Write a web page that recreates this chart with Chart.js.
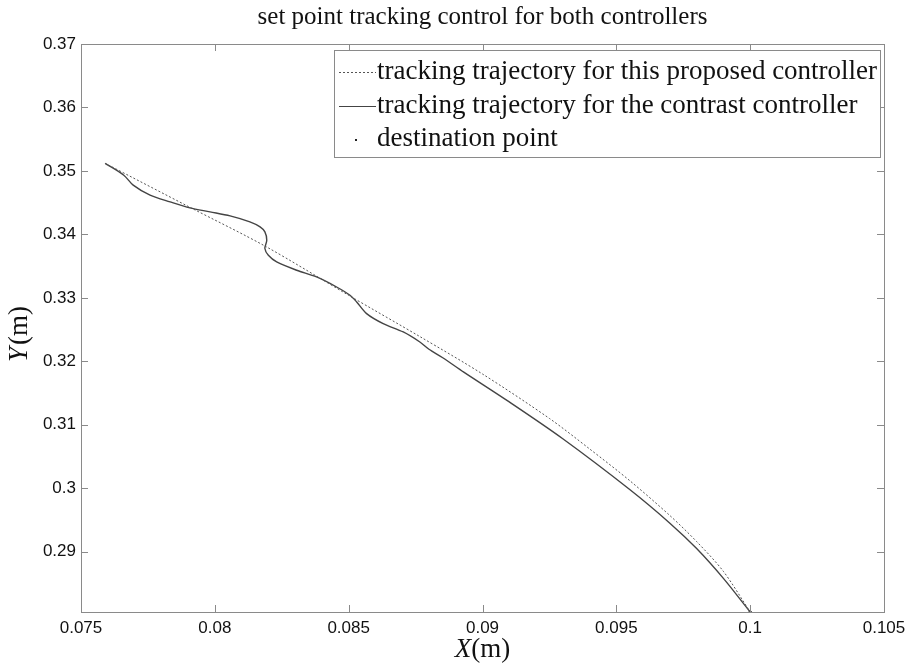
<!DOCTYPE html>
<html>
<head>
<meta charset="utf-8">
<script src="https://cdn.jsdelivr.net/npm/chart.js@4.4.0/dist/chart.umd.min.js"></script>
<style>
  html, body { margin: 0; padding: 0; background: #fff; }
  #wrap { width: 912px; height: 669px; }
</style>
</head>
<body>
<div id="wrap"><canvas id="myChart" width="912" height="669"></canvas></div>
<script>
// tick labels
const xTicks = [0.075, 0.08, 0.085, 0.09, 0.095, 0.1, 0.105];
const yTicks = [0.29, 0.3, 0.31, 0.32, 0.33, 0.34, 0.35, 0.36, 0.37];

// proposed controller (dotted)
const propX = [0.0759, 0.0791, 0.0819, 0.0850, 0.0877, 0.0900, 0.0925, 0.0940, 0.0955, 0.0970, 0.0980, 0.0990, 0.1000];
const propY = [0.3512, 0.3442, 0.3381, 0.3304, 0.3238, 0.3180, 0.3110, 0.3062, 0.3012, 0.2957, 0.2916, 0.2869, 0.2805];

// contrast controller (solid)
const contX = [0.0759, 0.0766, 0.07695, 0.07758, 0.07833, 0.07907, 0.07982, 0.08057, 0.08131, 0.08169, 0.08187, 0.08194, 0.08187, 0.0820, 0.08231, 0.08306, 0.0838, 0.08455, 0.08505, 0.0853, 0.08567, 0.08629, 0.08704, 0.08766, 0.0880, 0.0885, 0.0893, 0.0910, 0.0930, 0.0955, 0.0970, 0.0980, 0.0990, 0.1000];
const contY = [0.3512, 0.34933, 0.34776, 0.34618, 0.34512, 0.34418, 0.34355, 0.34291, 0.34197, 0.34118, 0.34039, 0.33908, 0.33777, 0.33671, 0.33566, 0.33435, 0.33329, 0.33171, 0.33041, 0.32935, 0.32752, 0.32594, 0.32462, 0.32304, 0.3219, 0.3206, 0.3183, 0.3136, 0.3078, 0.2998, 0.2945, 0.2905, 0.2858, 0.2805];

// destination point
const destX = [0.1];
const destY = [0.2805];

const labels = [
  'tracking trajectory for this proposed controller',
  'tracking trajectory for the contrast controller',
  'destination point'
];

function pts(xs, ys) { return xs.map((x, i) => ({ x: x, y: ys[i] })); }

const serif = '"Liberation Serif", "DejaVu Serif", serif';
const sans = '"Liberation Sans", Arial, sans-serif';

// ticks pointing inward on all four sides, matlab style
const boxPlugin = {
  id: 'boxTicks',
  afterDraw(chart) {
    const c = chart.ctx, a = chart.chartArea;
    const sx = chart.scales.x, sy = chart.scales.y;
    c.save();
    c.strokeStyle = '#8a8a8a';
    c.lineWidth = 1;
    c.beginPath();
    xTicks.forEach(v => {
      const p = Math.round(sx.getPixelForValue(v)) + 0.5;
      c.moveTo(p, a.bottom); c.lineTo(p, a.bottom - 7);
      c.moveTo(p, a.top); c.lineTo(p, a.top + 7);
    });
    yTicks.forEach(v => {
      const p = Math.round(sy.getPixelForValue(v)) + 0.5;
      c.moveTo(a.left, p); c.lineTo(a.left + 7, p);
      c.moveTo(a.right, p); c.lineTo(a.right - 7, p);
    });
    c.stroke();
    c.strokeRect(Math.round(a.left) + 0.5, Math.round(a.top) + 0.5, Math.round(a.right - a.left), Math.round(a.bottom - a.top));

    // title
    c.fillStyle = '#111';
    c.font = '25px ' + serif;
    c.textAlign = 'center';
    c.textBaseline = 'middle';
    c.fillText('set point tracking control for both controllers', (a.left + a.right) / 2, 17);

    // x axis title: italic X + (m)
    c.font = 'italic 27px ' + serif;
    const wX = c.measureText('X').width;
    c.font = '27px ' + serif;
    const wM = c.measureText('(m)').width;
    let x0 = (a.left + a.right) / 2 - (wX + wM) / 2;
    c.textAlign = 'left';
    c.font = 'italic 27px ' + serif;
    c.fillText('X', x0, 650);
    c.font = '27px ' + serif;
    c.fillText('(m)', x0 + wX, 650);

    // y axis title
    c.save();
    c.translate(20, 335);
    c.rotate(-Math.PI / 2);
    c.font = 'italic 27px ' + serif;
    const wY = c.measureText('Y').width;
    c.font = '27px ' + serif;
    const wM2 = c.measureText('(m)').width;
    x0 = -(wY + wM2) / 2;
    c.font = 'italic 27px ' + serif;
    c.fillText('Y', x0, 0);
    c.font = '27px ' + serif;
    c.fillText('(m)', x0 + wY + 2, 0);
    c.restore();

    // legend box
    const lx = 334, ly = 50, lw = 546, lh = 107;
    c.fillStyle = '#fff';
    c.fillRect(lx, ly, lw, lh);
    c.strokeStyle = '#8a8a8a';
    c.strokeRect(lx + 0.5, ly + 0.5, lw, lh);
    const rows = [72, 106, 139];
    chart.data.datasets.forEach((ds, i) => {
      const y = rows[i];
      c.strokeStyle = ds.borderColor;
      c.lineWidth = 1;
      if (i < 2) {
        c.setLineDash(ds.borderDash || []);
        c.beginPath();
        c.moveTo(339, y + 0.5); c.lineTo(376, y + 0.5);
        c.stroke();
        c.setLineDash([]);
      } else {
        c.fillStyle = '#222';
        c.fillRect(355, y, 2, 2);
      }
      c.fillStyle = '#111';
      c.font = '27px ' + serif;
      c.textAlign = 'left';
      c.textBaseline = 'middle';
      c.fillText(ds.label, 377, y);
    });
    c.restore();
  }
};

var ctx = document.getElementById('myChart').getContext('2d');

var config = {
  type: 'scatter',
  data: {
    datasets: [{
      label: labels[0],
      data: pts(propX, propY),
      showLine: true,
      borderColor: '#555',
      borderWidth: 1,
      borderDash: [2, 2],
      pointRadius: 0,
      tension: 0.3
    }, {
      label: labels[1],
      data: pts(contX, contY),
      showLine: true,
      borderColor: '#444',
      borderWidth: 1.4,
      pointRadius: 0,
      tension: 0.3
    }, {
      label: labels[2],
      data: pts(destX, destY),
      showLine: false,
      borderColor: '#222',
      backgroundColor: '#222',
      pointRadius: 1.2
    }]
  },
  options: {
    responsive: false,
    animation: false,
    layout: { padding: { top: 44, right: 28, left: 0, bottom: 0 } },
    plugins: { legend: { display: false }, tooltip: { enabled: false } },
    scales: {
      x: {
        type: 'linear',
        min: 0.075,
        max: 0.105,
        afterBuildTicks: s => { s.ticks = xTicks.map(v => ({ value: v })); },
        afterFit: s => { s.height = 57; },
        grid: { display: false, drawTicks: false },
        border: { display: false },
        ticks: {
          color: '#111',
          padding: 6,
          font: { family: sans, size: 17 },
          maxRotation: 0,
          callback: v => String(+v.toFixed(3))
        }
      },
      y: {
        type: 'linear',
        min: 0.2805,
        max: 0.37,
        afterBuildTicks: s => { s.ticks = yTicks.map(v => ({ value: v })); },
        afterFit: s => { s.width = 81; },
        grid: { display: false, drawTicks: false },
        border: { display: false },
        ticks: {
          color: '#111',
          padding: 5,
          font: { family: sans, size: 17 },
          callback: v => String(+v.toFixed(2))
        }
      }
    }
  },
  plugins: [boxPlugin]
};

var chart = new Chart(ctx, config);
</script>
</body>
</html>
